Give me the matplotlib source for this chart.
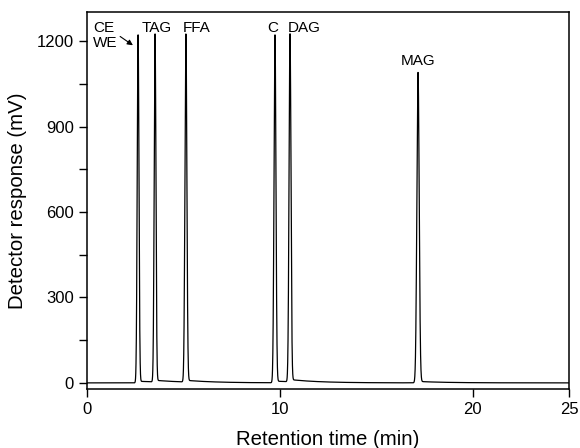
import numpy as np
import matplotlib
matplotlib.use('Agg')
import matplotlib.pyplot as plt

plt.rcParams['font.family'] = ['Liberation Sans', 'DejaVu Sans']

# peaks
peak_names = ['CE/WE', 'TAG', 'FFA', 'C', 'DAG', 'MAG']
peak_times = [2.65, 3.53, 5.13, 9.75, 10.53, 17.17]     # min
peak_heights = [1222, 1222, 1222, 1222, 1222, 1090]     # mV
peak_widths = [0.045, 0.045, 0.05, 0.05, 0.05, 0.06]    # sigma, min
tail_levels = [6, 6, 6, 6, 8, 5]                        # small tailing after each peak, mV

# trace built from the peak table
t = np.linspace(0, 25, 6000)
signal = np.zeros_like(t)
for rt, h, w, tl in zip(peak_times, peak_heights, peak_widths, tail_levels):
    signal += h * np.exp(-0.5 * ((t - rt) / w) ** 2)
    after = t > rt
    signal[after] += tl * np.exp(-(t[after] - rt) / 1.5) * (1 - np.exp(-(t[after] - rt) / 0.05))

fig = plt.figure(figsize=(5.8, 4.48), dpi=100)
ax = fig.add_axes([0.15, 0.132, 0.831, 0.841])
ax.plot(t, signal, color='black', lw=0.9)

ax.set_xlim(0, 25)
ax.set_ylim(-21, 1302)
ax.set_xticks([0, 10, 20, 25])
ax.set_yticks([0, 300, 600, 900, 1200])
ax.set_yticks([150, 450, 750, 1050], minor=True)
ax.tick_params(axis='both', which='both', direction='out', labelsize=12, top=False, right=False)
ax.tick_params(axis='both', which='major', length=6, width=1)
ax.tick_params(axis='y', which='minor', length=6, width=1)
for s in ax.spines.values():
    s.set_linewidth(1.1)

ax.set_xlabel('Retention time (min)', fontsize=14.7, labelpad=9)
ax.set_ylabel('Detector response (mV)', fontsize=14.7, labelpad=7)

# peak labels
lbl = dict(fontsize=11, va='baseline')
ax.text(0.31, 1232, 'CE', ha='left', **lbl)
ax.text(0.31, 1179, 'WE', ha='left', **lbl)
ax.annotate('', xy=(2.5, 1180), xytext=(1.6, 1222),
            arrowprops=dict(arrowstyle='-|>', color='black', lw=0.8, mutation_scale=8))
ax.text(3.63, 1232, 'TAG', ha='center', **lbl)
ax.text(4.98, 1232, 'FFA', ha='left', **lbl)
ax.text(9.65, 1232, 'C', ha='center', **lbl)
ax.text(10.43, 1232, 'DAG', ha='left', **lbl)
ax.text(17.17, 1116, 'MAG', ha='center', **lbl)

fig.savefig('out.png', dpi=100)
